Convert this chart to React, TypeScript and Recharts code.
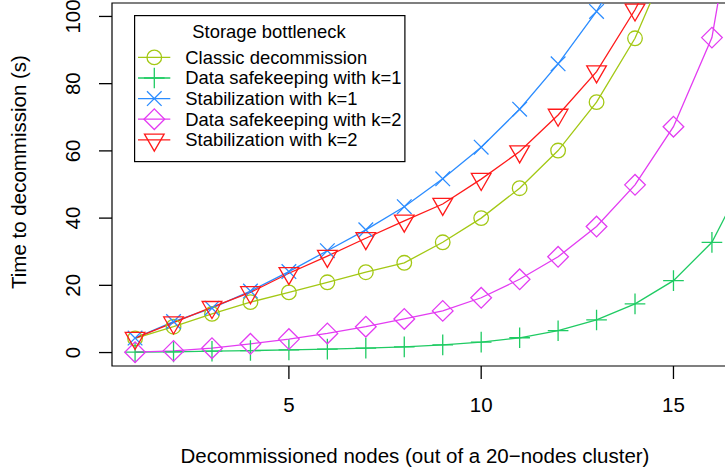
import React from "react";
import {
  LineChart,
  Line,
  XAxis,
  YAxis,
  ReferenceArea,
  Legend,
  Label,
} from "recharts";

// decommissioned nodes (x) and time to decommission in seconds per scenario
const nodes = [1, 2, 3, 4, 5, 6, 7, 8, 9, 10, 11, 12, 13, 14, 15, 16, 17];
const classic = [4.2, 7.7, 11.5, 15.0, 17.9, 20.9, 23.9, 26.7, 32.8, 40.0, 48.9, 60.1, 74.5, 93.5, 120];
const safeK1 = [0.1, 0.2, 0.4, 0.6, 0.8, 1.0, 1.3, 1.7, 2.3, 3.1, 4.4, 6.5, 9.7, 14.5, 21.4, 32.8, 55];
const stabK1 = [4.3, 9.2, 13.2, 18.3, 24.1, 30.3, 36.5, 43.4, 51.7, 61.1, 72.4, 85.9, 101.5, 121];
const safeK2 = [0.1, 0.5, 1.3, 2.6, 4.0, 5.7, 7.7, 10.0, 12.4, 16.3, 21.8, 28.5, 37.5, 49.9, 67.2, 93.7, 160];
const stabK2 = [4.3, 8.9, 13.5, 17.9, 23.6, 28.7, 34.0, 39.2, 44.2, 51.6, 59.8, 70.7, 83.6, 102, 124];

const xTicks = [5, 10, 15];
const yTicks = [0, 20, 40, 60, 80, 100];

const FONT = "'Liberation Sans', Arial, Helvetica, sans-serif";

type Shape = "circle" | "plus" | "cross" | "diamond" | "triangle";

const series: { key: string; name: string; color: string; shape: Shape }[] = [
  { key: "classic", name: "Classic decommission", color: "#A3C814", shape: "circle" },
  { key: "safeK1", name: "Data safekeeping with k=1", color: "#1FCB63", shape: "plus" },
  { key: "stabK1", name: "Stabilization with k=1", color: "#2B8CFF", shape: "cross" },
  { key: "safeK2", name: "Data safekeeping with k=2", color: "#E33CF2", shape: "diamond" },
  { key: "stabK2", name: "Stabilization with k=2", color: "#FF1A1A", shape: "triangle" },
];

const data = nodes.map((n, i) => ({
  n,
  classic: classic[i] ?? null,
  safeK1: safeK1[i] ?? null,
  stabK1: stabK1[i] ?? null,
  safeK2: safeK2[i] ?? null,
  stabK2: stabK2[i] ?? null,
}));

const SW = 1.3;

function Marker({ cx, cy, shape, color }: { cx: number; cy: number; shape: Shape; color: string }) {
  const r = 7.3;
  const p = { fill: "none", stroke: color, strokeWidth: SW };
  switch (shape) {
    case "circle":
      return <circle cx={cx} cy={cy} r={r} {...p} />;
    case "plus": {
      const a = r * Math.SQRT2;
      return <path d={`M${cx - a},${cy}H${cx + a}M${cx},${cy - a}V${cy + a}`} {...p} />;
    }
    case "cross":
      return (
        <path
          d={`M${cx - r},${cy - r}L${cx + r},${cy + r}M${cx - r},${cy + r}L${cx + r},${cy - r}`}
          {...p}
        />
      );
    case "diamond": {
      const a = r * Math.SQRT2;
      return <path d={`M${cx - a},${cy}L${cx},${cy - a}L${cx + a},${cy}L${cx},${cy + a}Z`} {...p} />;
    }
    case "triangle": {
      const hw = 1.3468 * r;
      const top = 0.7776 * r;
      const apex = 1.5551 * r;
      return <path d={`M${cx - hw},${cy - top}L${cx + hw},${cy - top}L${cx},${cy + apex}Z`} {...p} />;
    }
  }
  return null;
}

const renderLegend = () => (
  <svg width={272} height={148} style={{ display: "block" }}>
    <rect x={0.6} y={0.6} width={270.3} height={146} fill="#fff" stroke="#000" strokeWidth={1.2} />
    <text x={135} y={23} textAnchor="middle" fontFamily={FONT} fontSize={18.4} fill="#000">
      Storage bottleneck
    </text>
    {series.map((s, i) => {
      const cy = 42.4 + i * 20.6;
      return (
        <g key={s.key}>
          <line x1={4} x2={36.3} y1={cy} y2={cy} stroke={s.color} strokeWidth={SW} />
          <Marker cx={20.3} cy={cy} shape={s.shape} color={s.color} />
          <text x={51.3} y={cy + 6.4} fontFamily={FONT} fontSize={18.4} fill="#000">
            {s.name}
          </text>
        </g>
      );
    })}
  </svg>
);

const XTick = (props: any) => {
  const { x, payload } = props;
  return (
    <text x={x} y={411.7} textAnchor="middle" fontFamily={FONT} fontSize={20.5} fill="#000">
      {payload.value}
    </text>
  );
};

const YTick = (props: any) => {
  const { y, payload } = props;
  return (
    <text
      x={80}
      y={y}
      transform={`rotate(-90, 80, ${y})`}
      textAnchor="middle"
      fontFamily={FONT}
      fontSize={20.5}
      fill="#000"
    >
      {payload.value}
    </text>
  );
};

export default function App() {
  return (
    <div style={{ position: "absolute", left: 0, top: 0, width: 725, height: 474, overflow: "hidden", background: "#fff" }}>
      <LineChart width={740} height={474} data={data} margin={{ top: 3, right: 5, bottom: 0, left: 0 }}>
        <XAxis
          dataKey="n"
          type="number"
          domain={[0.4, 16.6]}
          allowDataOverflow
          ticks={xTicks}
          tickSize={13}
          tickLine={{ stroke: "#000", strokeWidth: SW }}
          axisLine={false}
          tick={<XTick />}
          height={108}
        >
          <Label
            content={() => (
              <text x={415} y={463} textAnchor="middle" fontFamily={FONT} fontSize={20.5} fill="#000">
                Decommissioned nodes (out of a 20−nodes cluster)
              </text>
            )}
          />
        </XAxis>
        <YAxis
          type="number"
          domain={[-4, 104]}
          allowDataOverflow
          ticks={yTicks}
          tickSize={13}
          tickLine={{ stroke: "#000", strokeWidth: SW }}
          axisLine={false}
          tick={<YTick />}
          width={112}
        >
          <Label
            content={() => (
              <text
                x={26}
                y={172}
                transform="rotate(-90, 26, 172)"
                textAnchor="middle"
                fontFamily={FONT}
                fontSize={20.5}
                fill="#000"
              >
                Time to decommission (s)
              </text>
            )}
          />
        </YAxis>
        <ReferenceArea
          x1={0.4}
          x2={16.6}
          y1={-4}
          y2={104}
          fill="none"
          stroke="#000"
          strokeWidth={1.2}
          ifOverflow="visible"
        />
        {series.map((s) => (
          <Line
            key={s.key}
            dataKey={s.key}
            name={s.name}
            type="linear"
            stroke={s.color}
            strokeWidth={SW}
            isAnimationActive={false}
            connectNulls={false}
            activeDot={false}
            dot={(p: any) =>
              p.cy == null ? (
                <g key={`${s.key}-${p.index}`} />
              ) : (
                <Marker key={`${s.key}-${p.index}`} cx={p.cx} cy={p.cy} shape={s.shape} color={s.color} />
              )
            }
          />
        ))}
        <Legend
          layout="horizontal"
          verticalAlign="middle"
          align="center"
          content={renderLegend}
          wrapperStyle={{ position: "absolute", left: 134, top: 15, width: 272, height: 148 }}
        />
      </LineChart>
    </div>
  );
}
